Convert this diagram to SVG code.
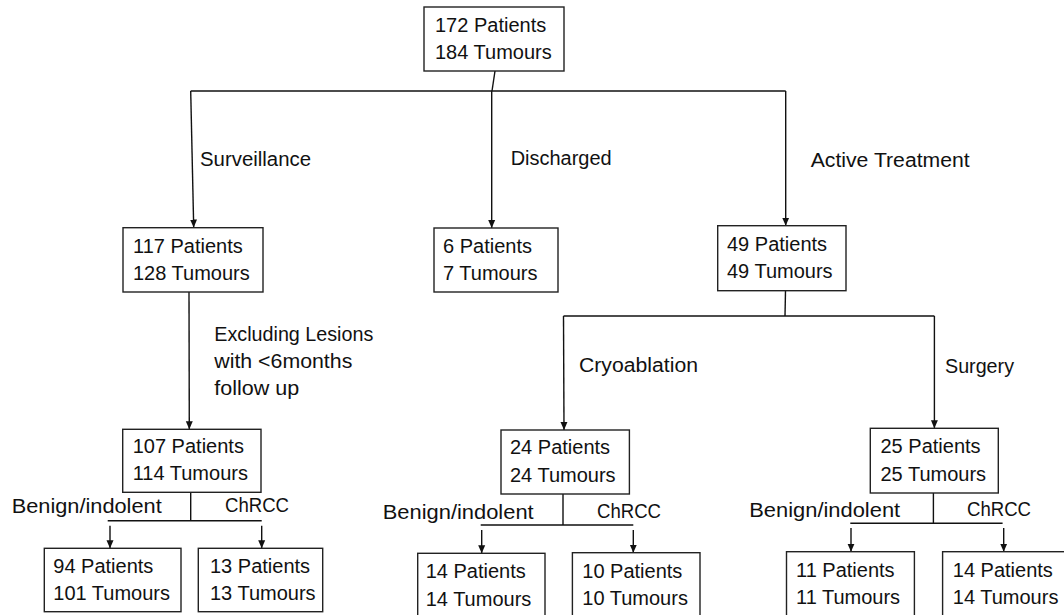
<svg xmlns="http://www.w3.org/2000/svg" width="1064" height="615" viewBox="0 0 1064 615">
<style>
.box{fill:#fff;stroke:#222;stroke-width:1.4}
.ln{fill:none;stroke:#111;stroke-width:1.4}
.ar{fill:none;stroke:#111;stroke-width:1.4;marker-end:url(#ah)}
text{font-family:"Liberation Sans",Arial,sans-serif;font-size:20px;fill:#111}
</style>
<defs>
<marker id="ah" markerUnits="userSpaceOnUse" markerWidth="8" markerHeight="8" viewBox="0 0 8 8" refX="8" refY="4" orient="auto">
<path d="M0,0.5 L8,4 L0,7.5 z" fill="#111"/>
</marker>
</defs>
<rect width="1064" height="615" fill="#fff"/>
<g id="connectors">
<path class="ln" d="M495,71 L492,91"/>
<path class="ln" d="M190.7,91 L785.7,91"/>
<path class="ar" d="M190.7,91 L193.7,227.5"/>
<path class="ar" d="M491.7,91 L491.7,228"/>
<path class="ar" d="M785.7,91 L785.7,225.7"/>
<path class="ar" d="M189,292 L189.3,429.3"/>
<path class="ln" d="M785.5,290.7 L785,316"/>
<path class="ln" d="M563.5,316 L934.4,316"/>
<path class="ar" d="M563.5,316 L564,430"/>
<path class="ar" d="M934.4,316 L934.4,428.3"/>
<path class="ln" d="M190.7,492.3 L190.7,520.7 M107.7,520.7 L261.7,520.7"/>
<path class="ar" d="M110,525.7 L110,548.3"/>
<path class="ar" d="M261.7,525.7 L261.7,548.3"/>
<path class="ln" d="M563,494 L563,525 M480.7,525 L633.3,525"/>
<path class="ar" d="M481.7,530 L481.7,553.3"/>
<path class="ar" d="M633.3,530 L633.3,552.7"/>
<path class="ln" d="M933.4,493 L933.4,523.3 M850.3,523.3 L1002.6,523.3"/>
<path class="ar" d="M851,528 L851,551.7"/>
<path class="ar" d="M1003.7,528 L1003.7,551.7"/>
</g>
<g id="labels">
<text x="200" y="166" textLength="111" lengthAdjust="spacingAndGlyphs">Surveillance</text>
<text x="510.7" y="165" textLength="101" lengthAdjust="spacingAndGlyphs">Discharged</text>
<text x="810.7" y="166.5" textLength="159" lengthAdjust="spacingAndGlyphs">Active Treatment</text>
<text x="214.3" y="340.7" textLength="159" lengthAdjust="spacingAndGlyphs">Excluding Lesions</text>
<text x="214.3" y="368" textLength="138" lengthAdjust="spacingAndGlyphs">with &lt;6months</text>
<text x="214.3" y="395" textLength="85" lengthAdjust="spacingAndGlyphs">follow up</text>
<text x="579" y="371.7" textLength="119" lengthAdjust="spacingAndGlyphs">Cryoablation</text>
<text x="945" y="373" textLength="69" lengthAdjust="spacingAndGlyphs">Surgery</text>
<text x="11.7" y="513.3" textLength="150" lengthAdjust="spacingAndGlyphs">Benign/indolent</text>
<text x="225" y="512.3" textLength="64" lengthAdjust="spacingAndGlyphs">ChRCC</text>
<text x="382.7" y="519.3" textLength="151" lengthAdjust="spacingAndGlyphs">Benign/indolent</text>
<text x="597" y="518.3" textLength="64" lengthAdjust="spacingAndGlyphs">ChRCC</text>
<text x="749.2" y="516.7" textLength="151" lengthAdjust="spacingAndGlyphs">Benign/indolent</text>
<text x="967" y="515.7" textLength="64" lengthAdjust="spacingAndGlyphs">ChRCC</text>
</g>
<g id="n-top"><rect class="box" x="424" y="7" width="140" height="64"/><text x="435" y="32">172 Patients</text><text x="435" y="59">184 Tumours</text></g>
<g id="n-surv"><rect class="box" x="123" y="227.7" width="140" height="64.3"/><text x="133" y="252.7">117 Patients</text><text x="133" y="280">128 Tumours</text></g>
<g id="n-disc"><rect class="box" x="434" y="228" width="124" height="64"/><text x="443" y="252.7">6 Patients</text><text x="443" y="280">7 Tumours</text></g>
<g id="n-active"><rect class="box" x="717.7" y="225.7" width="128.3" height="65"/><text x="727" y="250.7">49 Patients</text><text x="727" y="278">49 Tumours</text></g>
<g id="n-surv6"><rect class="box" x="122.7" y="429.3" width="138.3" height="63"/><text x="132.7" y="452.7">107 Patients</text><text x="132.7" y="480">114 Tumours</text></g>
<g id="n-cryo"><rect class="box" x="501" y="430" width="128.4" height="64"/><text x="510" y="454">24 Patients</text><text x="510" y="481.7">24 Tumours</text></g>
<g id="n-surg"><rect class="box" x="870.3" y="428.3" width="128" height="64.7"/><text x="880.5" y="453.3">25 Patients</text><text x="880.5" y="480.7">25 Tumours</text></g>
<g id="n-surv-benign"><rect class="box" x="44.3" y="548.3" width="136.7" height="63.4"/><text x="53.3" y="572.7">94 Patients</text><text x="53.3" y="600">101 Tumours</text></g>
<g id="n-surv-chrcc"><rect class="box" x="198.3" y="548.3" width="124.4" height="63.4"/><text x="210" y="572.7">13 Patients</text><text x="210" y="600">13 Tumours</text></g>
<g id="n-cryo-benign"><rect class="box" x="417.7" y="553.3" width="127.3" height="65"/><text x="425.7" y="578.3">14 Patients</text><text x="425.7" y="605.7">14 Tumours</text></g>
<g id="n-cryo-chrcc"><rect class="box" x="572.4" y="552.7" width="127.6" height="65"/><text x="582.3" y="577.7">10 Patients</text><text x="582.3" y="605">10 Tumours</text></g>
<g id="n-surg-benign"><rect class="box" x="786.5" y="551.7" width="127.9" height="65"/><text x="796" y="576.7">11 Patients</text><text x="796" y="604">11 Tumours</text></g>
<g id="n-surg-chrcc"><rect class="box" x="942.6" y="551.7" width="124" height="65"/><text x="952.8" y="576.7">14 Patients</text><text x="952.8" y="604">14 Tumours</text></g>
</svg>
